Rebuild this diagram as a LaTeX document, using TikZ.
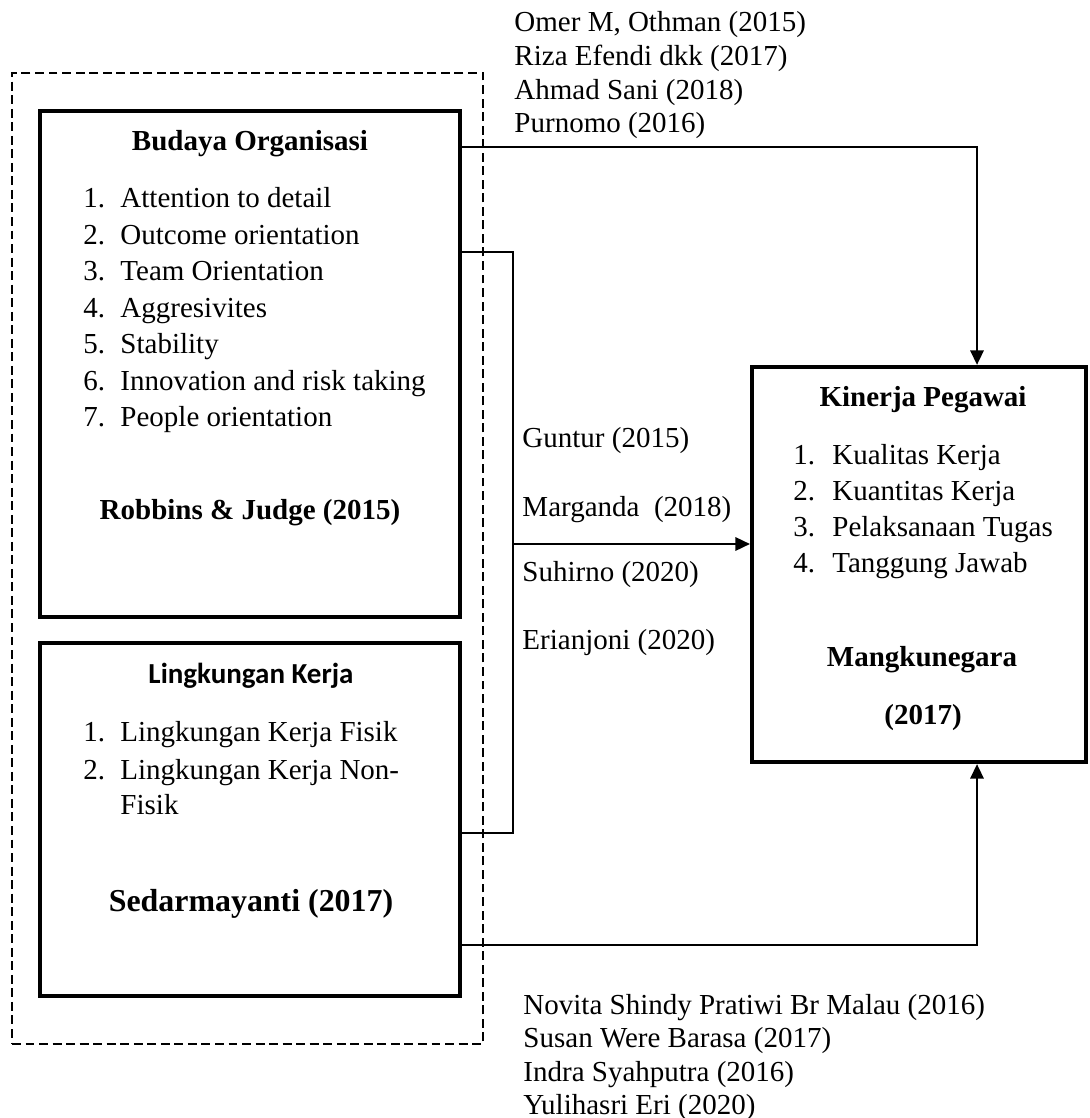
\documentclass[tikz,border=0pt]{standalone}
\usepackage{fontspec}
\setmainfont{Liberation Serif}
\newfontfamily\calibrifont{Carlito}
\usepackage{tikz}
\usetikzlibrary{arrows.meta}

\begin{document}
\begin{tikzpicture}[x=0.4138pt, y=-0.4138pt,
    box/.style={draw, line width=1.7pt, inner sep=0pt, minimum width=173.8pt},
    conn/.style={line width=0.9pt},
    arr/.style={conn, -{Triangle[length=6pt,width=5.5pt]}},
    txt/.style={inner sep=0pt, anchor=west, text height=10pt, text depth=2pt, font=\fontsize{12}{14}\selectfont},
    head/.style={inner sep=0pt, text height=10pt, text depth=2pt, font=\fontsize{12}{14}\selectfont\bfseries}]
    \useasboundingbox (0,0) rectangle (1089,1118);

    % draw dashed frame
    \node[draw, line width=0.8pt, dash pattern=on 3.7pt off 1.9pt, inner sep=0pt,
      minimum width=194.9pt, minimum height=401.8pt] (frame) at (247.5,558.5) {};

    % draw boxes
    \node[box, minimum height=209.4pt] (budaya) at (250,364) {};
    \node[box, minimum height=146.1pt] (lingkungan) at (250,819.5) {};
    \node[box, minimum width=138.2pt, minimum height=163.5pt] (kinerja) at (919,564.5) {};

    % draw box texts
    \node[head] (budaya-title) at (250,141) {Budaya Organisasi};
    \foreach \t [count=\i] in {Attention to detail, Outcome orientation, Team Orientation,
        Aggresivites, Stability, Innovation and risk taking, People orientation}
      \node[txt] (budaya-\i) at (83,{198+36.5*(\i-1)}) {\makebox[15.3pt][l]{\i.}\t};
    \node[head] (budaya-src) at (250,510) {Robbins \& Judge (2015)};

    \node[head, font=\calibrifont\fontsize{12}{14}\selectfont\bfseries] (lingkungan-title) at (251,674) {Lingkungan Kerja};
    \node[txt] (lingkungan-1) at (83,732) {\makebox[15.3pt][l]{1.}Lingkungan Kerja Fisik};
    \node[txt] (lingkungan-2) at (83,770) {\makebox[15.3pt][l]{2.}Lingkungan Kerja Non-};
    \node[txt] (lingkungan-2b) at (120,805) {Fisik};
    \node[head, font=\fontsize{13.2}{16}\selectfont\bfseries] (lingkungan-src) at (251,902) {Sedarmayanti (2017)};

    \node[head] (kinerja-title) at (923,397) {Kinerja Pegawai};
    \foreach \t [count=\i] in {Kualitas Kerja, Kuantitas Kerja, Pelaksanaan Tugas, Tanggung Jawab}
      \node[txt] (kinerja-\i) at (793,{455+36*(\i-1)}) {\makebox[16.1pt][l]{\i.}\t};
    \node[head] (kinerja-src) at (922,657) {Mangkunegara};
    \node[head] (kinerja-year) at (923,715) {(2017)};

    % draw citations
    \foreach \t [count=\i] in {{Omer M, Othman (2015)}, Riza Efendi dkk (2017), Ahmad Sani (2018), Purnomo (2016)}
      \node[txt] (cite-top-\i) at (514,{22+33.7*(\i-1)}) {\t};
    \foreach \t/\y [count=\i] in {Guntur (2015)/438, Marganda\ \ (2018)/507, Suhirno (2020)/572, Erianjoni (2020)/640}
      \node[txt] (cite-mid-\i) at (522,\y) {\t};
    \foreach \t [count=\i] in {Novita Shindy Pratiwi Br Malau (2016), Susan Were Barasa (2017),
        Indra Syahputra (2016), Yulihasri Eri (2020)}
      \node[txt] (cite-bot-\i) at (523,{1005+33.3*(\i-1)}) {\t};

    % draw connectors
    \coordinate (top-bend) at (977,147);
    \coordinate (bottom-bend) at (977,945);
    \coordinate (bracket-top) at (513,252);
    \coordinate (bracket-bottom) at (513,833);
    \coordinate (bracket-mid) at (513,544);

    \draw[arr] (budaya.east |- top-bend) -| (kinerja.north -| top-bend);
    \draw[arr] (lingkungan.east |- bottom-bend) -| (kinerja.south -| bottom-bend);
    \draw[conn] (budaya.east |- bracket-top) -- (bracket-top) -- (bracket-bottom) -- (lingkungan.east |- bracket-bottom);
    \draw[arr] (bracket-mid) -- (kinerja.west |- bracket-mid);
\end{tikzpicture}
\end{document}
